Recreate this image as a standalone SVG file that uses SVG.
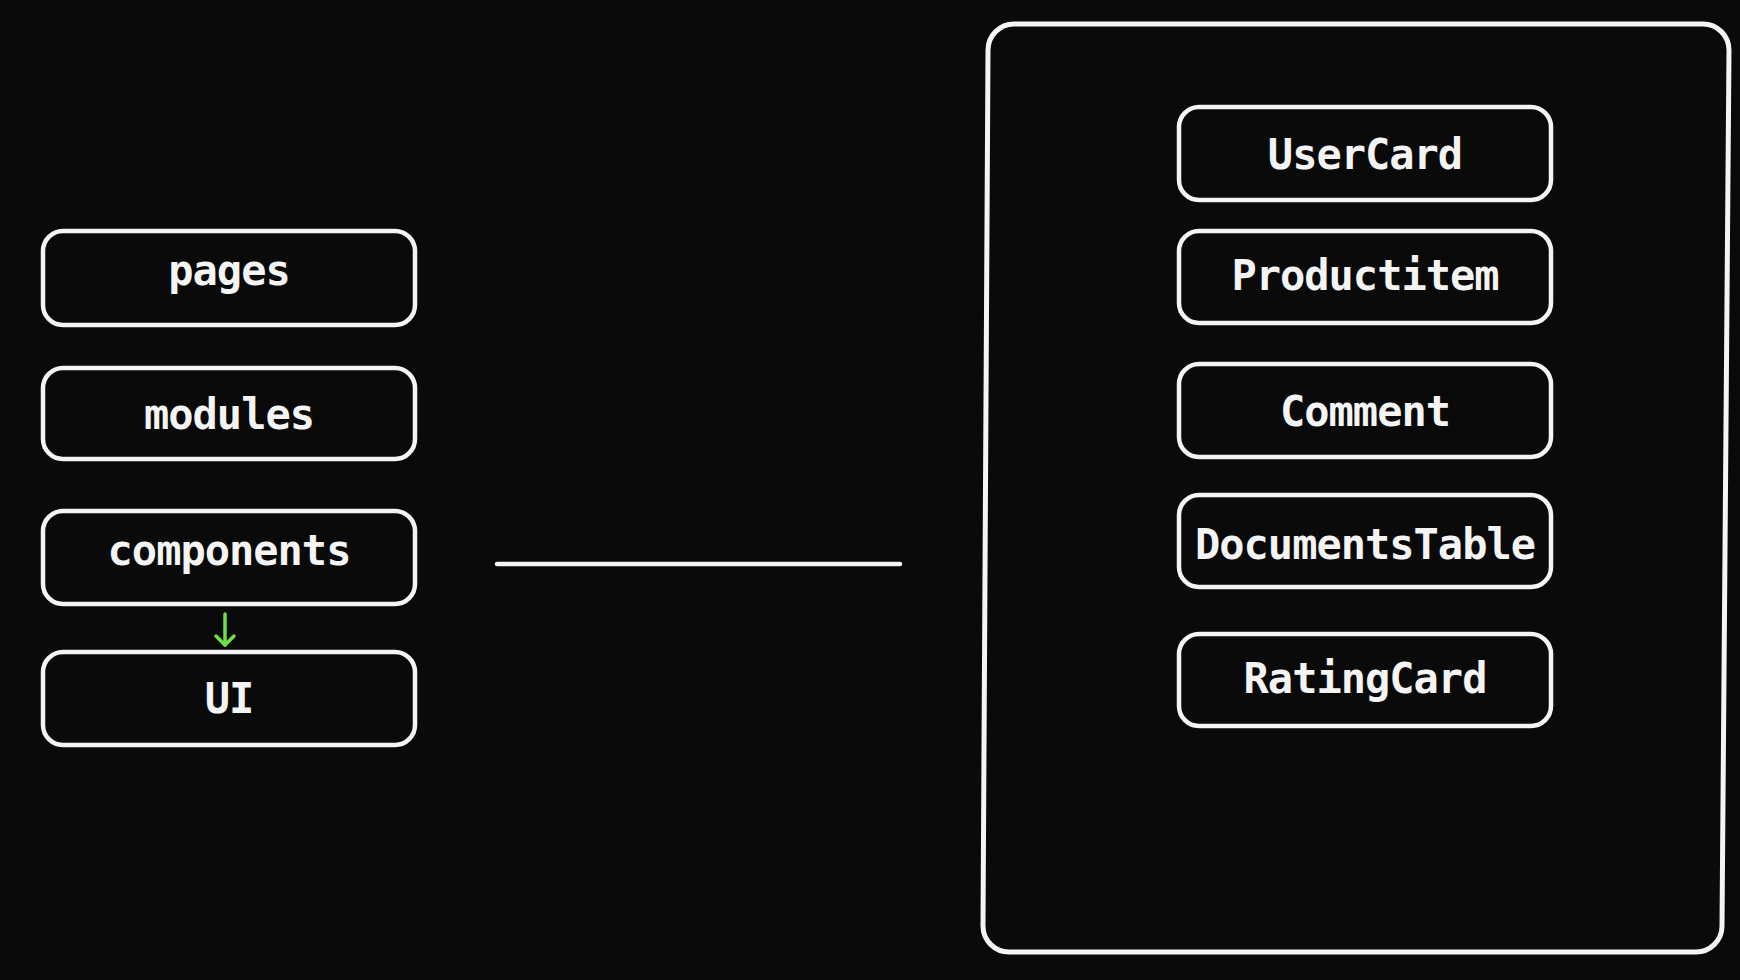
<svg xmlns="http://www.w3.org/2000/svg" width="1740" height="980" viewBox="0 0 1740 980">
  <style>
    .box { fill: #0a0a0a; stroke: #f4f4f4; stroke-width: 4.5; }
    .lbl { fill: #f4f4f4; font-family: "DejaVu Sans Mono", "Liberation Mono", monospace; font-weight: bold; font-size: 42px; letter-spacing: -1px; text-anchor: middle; }
    .frame { fill: none; stroke: #f4f4f4; stroke-width: 5; }
  </style>
  <rect x="0" y="0" width="1740" height="980" fill="#0a0a0a"/>

  <g id="frame">
    <path class="frame" d="M 1014 24 H 1703 A 26 26 0 0 1 1729 50 L 1722 926 A 26 26 0 0 1 1696 952 H 1009 A 26 26 0 0 1 983 926 L 988 50 A 26 26 0 0 1 1014 24 Z"/>
  </g>

  <g id="connectors">
    <line x1="497" y1="564" x2="900" y2="564" stroke="#f4f4f4" stroke-width="4.5" stroke-linecap="round"/>
    <g stroke="#6ee04a" stroke-width="3.5" fill="none" stroke-linecap="round" stroke-linejoin="round">
      <line x1="225" y1="614" x2="225" y2="645"/>
      <polyline points="216,636 225,645 234,636"/>
    </g>
  </g>

  <g id="node-pages">
    <rect class="box" x="43" y="231" width="372" height="94" rx="20"/>
    <text class="lbl" x="229" y="285">pages</text>
  </g>
  <g id="node-modules">
    <rect class="box" x="43" y="368" width="372" height="91" rx="20"/>
    <text class="lbl" x="229" y="429">modules</text>
  </g>
  <g id="node-components">
    <rect class="box" x="43" y="511" width="372" height="93" rx="20"/>
    <text class="lbl" x="229" y="565">components</text>
  </g>
  <g id="node-ui">
    <rect class="box" x="43" y="652" width="372" height="93" rx="20"/>
    <text class="lbl" x="229" y="713">UI</text>
  </g>

  <g id="node-usercard">
    <rect class="box" x="1179" y="107" width="372" height="93" rx="20"/>
    <text class="lbl" x="1365" y="169">UserCard</text>
  </g>
  <g id="node-productitem">
    <rect class="box" x="1179" y="231" width="372" height="92" rx="20"/>
    <text class="lbl" x="1365" y="290">Productitem</text>
  </g>
  <g id="node-comment">
    <rect class="box" x="1179" y="364" width="372" height="93" rx="20"/>
    <text class="lbl" x="1365" y="426">Comment</text>
  </g>
  <g id="node-documentstable">
    <rect class="box" x="1179" y="495" width="372" height="92" rx="20"/>
    <text class="lbl" x="1365" y="559">DocumentsTable</text>
  </g>
  <g id="node-ratingcard">
    <rect class="box" x="1179" y="634" width="372" height="92" rx="20"/>
    <text class="lbl" x="1365" y="693">RatingCard</text>
  </g>
</svg>
